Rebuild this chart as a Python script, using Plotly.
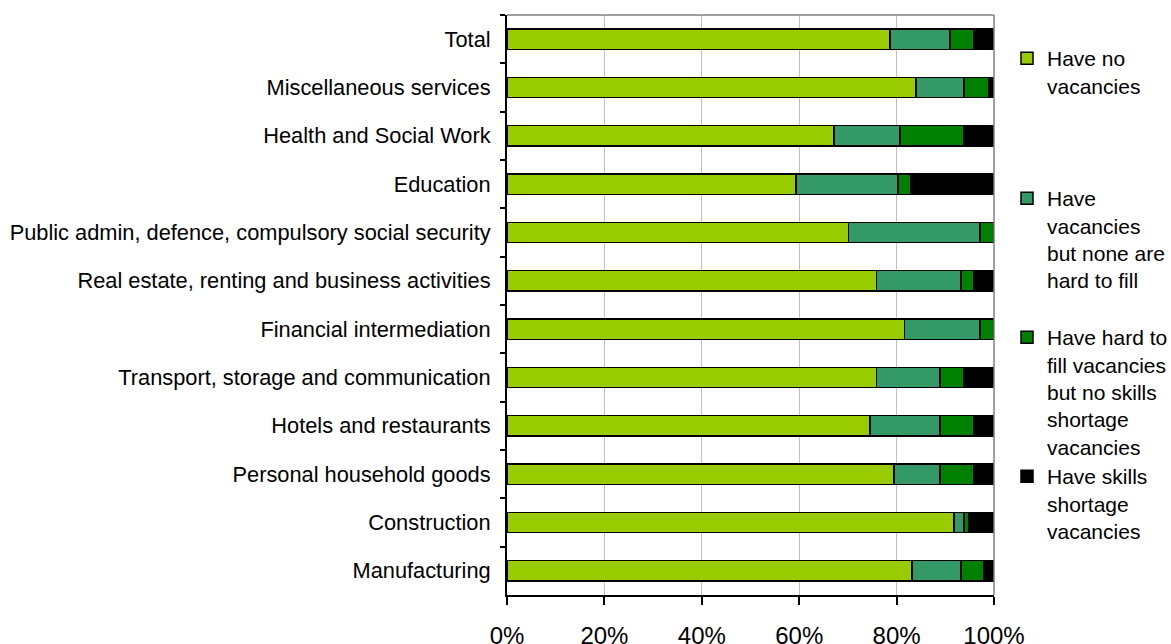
import plotly.graph_objects as go

# Sectors, listed top to bottom
sectors = [
    "Total",
    "Miscellaneous services",
    "Health and Social Work",
    "Education",
    "Public admin, defence, compulsory social security",
    "Real estate, renting and business activities",
    "Financial intermediation",
    "Transport, storage and communication",
    "Hotels and restaurants",
    "Personal household goods",
    "Construction",
    "Manufacturing",
]

# Share of establishments (%) in each vacancy situation
no_vacancies = [78.6, 84.0, 67.1, 59.3, 70.1, 75.9, 81.6, 75.9, 74.5, 79.5, 91.8, 83.2]
vacancies_not_hard = [12.4, 9.8, 13.6, 21.0, 27.0, 17.3, 15.5, 13.0, 14.4, 9.4, 2.0, 10.0]
hard_to_fill_no_ssv = [4.8, 5.2, 13.0, 2.7, 2.9, 2.6, 2.9, 4.9, 6.9, 6.9, 1.1, 4.6]
skills_shortage = [4.2, 1.0, 6.3, 17.0, 0.0, 4.2, 0.0, 6.2, 4.2, 4.2, 5.1, 2.2]

series_names = [
    "Have no<br>vacancies",
    "Have<br>vacancies<br>but none are<br>hard to fill",
    "Have hard to<br>fill vacancies<br>but no skills<br>shortage<br>vacancies",
    "Have skills<br>shortage<br>vacancies",
]
series_values = [no_vacancies, vacancies_not_hard, hard_to_fill_no_ssv, skills_shortage]
series_colors = ["#99CC00", "#339966", "#008000", "#000000"]
legend_ids = ["legend", "legend2", "legend3", "legend4"]

FONT = "Liberation Sans, Arial, sans-serif"

fig = go.Figure()
for name, vals, color, lg in zip(series_names, series_values, series_colors, legend_ids):
    fig.add_trace(go.Bar(
        y=sectors,
        x=vals,
        name=name,
        orientation="h",
        marker=dict(color=color, line=dict(color="#000000", width=1.5)),
        legend=lg,
        hoverinfo="skip",
    ))

W, H = 1171, 644
legend_tops = [38, 178, 317, 456]  # pixel tops of each legend block


def legend_cfg(top_px):
    return dict(
        x=1007 / W, xref="container", xanchor="left",
        y=1 - top_px / H, yref="container", yanchor="top",
        font=dict(family=FONT, size=21, color="#000000"),
        bgcolor="rgba(0,0,0,0)",
        valign="top",
        itemclick=False,
    )


fig.update_layout(
    width=W,
    height=H,
    barmode="stack",
    bargap=0.58,
    plot_bgcolor="#FFFFFF",
    paper_bgcolor="#FFFFFF",
    margin=dict(l=507, r=177, t=15, b=49, autoexpand=False),
    font=dict(family=FONT, size=21, color="#000000"),
    showlegend=True,
    legend=legend_cfg(legend_tops[0]),
    legend2=legend_cfg(legend_tops[1]),
    legend3=legend_cfg(legend_tops[2]),
    legend4=legend_cfg(legend_tops[3]),
    xaxis=dict(
        range=[0, 100],
        tickvals=[0, 20, 40, 60, 80, 100],
        ticktext=["0%", "20%", "40%", "60%", "80%", "100%"],
        showgrid=True,
        gridcolor="#C0C0C0",
        gridwidth=1,
        zeroline=False,
        showline=True,
        linecolor="#000000",
        linewidth=2,
        ticks="outside",
        ticklen=8,
        tickwidth=2,
        tickcolor="#000000",
        ticklabelstandoff=10,
        tickfont=dict(family=FONT, size=24, color="#000000"),
        fixedrange=True,
    ),
    yaxis=dict(
        categoryorder="array",
        categoryarray=sectors,
        autorange="reversed",
        tickson="boundaries",
        ticks="outside",
        ticklen=5,
        tickwidth=2,
        tickcolor="#000000",
        showgrid=False,
        showline=True,
        linecolor="#000000",
        linewidth=2,
        ticklabelstandoff=10,
        tickfont=dict(family=FONT, size=21.8, color="#000000"),
        fixedrange=True,
    ),
    shapes=[
        dict(type="line", xref="paper", yref="paper", x0=0, x1=1, y0=1, y1=1,
             line=dict(color="#808080", width=1.5)),
        dict(type="line", xref="paper", yref="paper", x0=1, x1=1, y0=0, y1=1,
             line=dict(color="#808080", width=1.5)),
    ],
)

fig.write_html("out.html", config={"displayModeBar": False})
